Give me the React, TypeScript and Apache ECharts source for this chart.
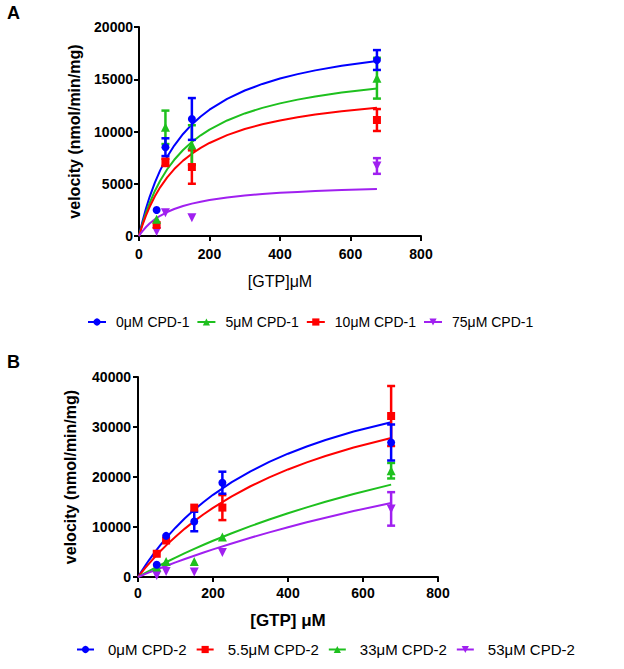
import React, { useEffect, useRef } from "react";
import * as echarts from "echarts";

const FONT = "'Liberation Sans', Arial, Helvetica, sans-serif";

// ---------- Panel A ----------
const namesA = ["0μM CPD-1", "5μM CPD-1", "10μM CPD-1", "75μM CPD-1"];
const xA = [50, 75, 150, 675];
const vA0 = [2490, 8500, 11200, 16840];
const eA0 = [0, 850, 2000, 950];
const vA5 = [1600, 10400, 8700, 15100];
const eA5 = [0, 1600, 1900, 1950];
const vA10 = [1050, 7050, 6600, 11100];
const eA10 = [0, 350, 1600, 1050];
const vA75 = [420, 2230, 1750, 6700];
const eA75 = [0, 0, 0, 750];

// fitted curves
const xCurve = [0, 5, 10, 20, 30, 45, 60, 80, 100, 125, 150, 175, 200, 250, 300, 350, 400, 450, 500, 575, 675];
const cA0 = [0, 735, 1418, 2649, 3727, 5114, 6283, 7583, 8658, 9766, 10676, 11438, 12085, 13123, 13921, 14553, 15066, 15491, 15848, 16289, 16749];
const cA5 = [0, 619, 1195, 2232, 3140, 4309, 5293, 6389, 7294, 8228, 8995, 9637, 10182, 11056, 11728, 12261, 12693, 13051, 13352, 13723, 14111];
const cA10 = [0, 549, 1058, 1973, 2772, 3798, 4660, 5615, 6404, 7213, 7878, 8432, 8902, 9656, 10234, 10690, 11061, 11367, 11624, 11942, 12273];
const cA75 = [0, 246, 469, 860, 1191, 1601, 1935, 2293, 2580, 2867, 3096, 3284, 3440, 3686, 3870, 4013, 4128, 4222, 4300, 4396, 4494];

// ---------- Panel B ----------
const namesB = ["0μM CPD-2", "5.5μM CPD-2", "33μM CPD-2", "53μM CPD-2"];
const xB = [50, 75, 150, 225, 675];
const vB0 = [2450, 8230, 11100, 18860, 26900];
const eB0 = [0, 0, 1950, 2200, 3600];
const vB55 = [4650, 7300, 13880, 13880, 32200];
const eB55 = [0, 0, 0, 2500, 6000];
const vB33 = [2000, 3110, 3110, 7980, 21260];
const eB33 = [0, 0, 0, 0, 1550];
const vB53 = [320, 1120, 1000, 4900, 13620];
const eB53 = [0, 0, 0, 0, 3350];

const cB0 = [0, 609, 1203, 2349, 3441, 4987, 6433, 8220, 9864, 11743, 13451, 15010, 16440, 18969, 21137, 23016, 24660, 26111, 27400, 29086, 30968];
const cB55 = [0, 479, 949, 1862, 2740, 3996, 5186, 6676, 8067, 9680, 11169, 12548, 13829, 16133, 18150, 19929, 21511, 22926, 24200, 25888, 27804];
const cB33 = [0, 209, 416, 825, 1228, 1821, 2401, 3154, 3885, 4769, 5622, 6446, 7241, 8754, 10170, 11499, 12749, 13925, 15035, 16588, 18471];
const cB53 = [0, 154, 308, 611, 912, 1355, 1791, 2360, 2917, 3594, 4253, 4894, 5518, 6715, 7851, 8930, 9957, 10934, 11866, 13186, 14812];

const BLUE = "#0000ff";
const GREEN = "#1ec01e";
const RED = "#ff0000";
const PURPLE = "#a020f0";

function lineSeries(name: string, ys: number[], color: string, symbol: string, rot: number, ax: number) {
  return {
    type: "line",
    name,
    xAxisIndex: ax,
    yAxisIndex: ax,
    data: xCurve.map((x, i) => [x, ys[i]]),
    smooth: false,
    showSymbol: false,
    symbol,
    symbolRotate: rot,
    symbolSize: 8,
    lineStyle: { color, width: 2 },
    itemStyle: { color },
    z: 2,
  };
}

function scatterSeries(name: string, xs: number[], ys: number[], color: string, symbol: string, rot: number, size: number, ax: number) {
  return {
    type: "scatter",
    name,
    xAxisIndex: ax,
    yAxisIndex: ax,
    data: xs.map((x, i) => [x, ys[i]]),
    symbol,
    symbolRotate: rot,
    symbolSize: size,
    itemStyle: { color, opacity: 1 },
    z: 4,
  };
}

function errSeries(name: string, xs: number[], ys: number[], es: number[], color: string, ax: number) {
  const data: number[][] = [];
  xs.forEach((x, i) => {
    if (es[i] > 0) data.push([x, ys[i] - es[i], ys[i] + es[i]]);
  });
  return {
    type: "custom",
    name,
    xAxisIndex: ax,
    yAxisIndex: ax,
    data,
    encode: { x: 0, y: [1, 2] },
    z: 3,
    renderItem: (params: any, api: any) => {
      const x = api.value(0);
      const lo = api.coord([x, api.value(1)]);
      const hi = api.coord([x, api.value(2)]);
      const w = 4;
      const style = { stroke: color, lineWidth: 2.5 };
      return {
        type: "group",
        children: [
          { type: "line", shape: { x1: lo[0], y1: lo[1], x2: hi[0], y2: hi[1] }, style },
          { type: "line", shape: { x1: hi[0] - w, y1: hi[1], x2: hi[0] + w, y2: hi[1] }, style },
          { type: "line", shape: { x1: lo[0] - w, y1: lo[1], x2: lo[0] + w, y2: lo[1] }, style },
        ],
      };
    },
  };
}

const axisLine = { show: true, lineStyle: { color: "#000", width: 2 } };
const axisTick = { show: true, inside: false, length: 5, lineStyle: { color: "#000", width: 2 } };
const plain = (v: number) => String(v);

export default function App() {
  const ref = useRef<HTMLDivElement>(null);
  useEffect(() => {
    if (!ref.current) return;
    const chart = echarts.init(ref.current, undefined, { renderer: "svg" });
    const option: any = {
      animation: false,
      backgroundColor: "#fff",
      textStyle: { fontFamily: FONT },
      grid: [
        { left: 139, top: 27, width: 282, height: 209 },
        { left: 138, top: 377, width: 300, height: 200 },
      ],
      xAxis: [
        {
          gridIndex: 0, type: "value", min: 0, max: 800, interval: 200,
          axisLine, axisTick, splitLine: { show: false },
          axisLabel: { color: "#000", fontWeight: "bold", fontSize: 14, fontFamily: FONT, margin: 11, formatter: plain },
          name: "[GTP]μM", nameLocation: "middle", nameGap: 37,
          nameTextStyle: { color: "#000", fontSize: 16, fontFamily: FONT },
        },
        {
          gridIndex: 1, type: "value", min: 0, max: 800, interval: 200,
          axisLine, axisTick, splitLine: { show: false },
          axisLabel: { color: "#000", fontWeight: "bold", fontSize: 14, fontFamily: FONT, margin: 9, formatter: plain },
          name: "[GTP] μM", nameLocation: "middle", nameGap: 35,
          nameTextStyle: { color: "#000", fontSize: 17, fontWeight: "bold", fontFamily: FONT },
        },
      ],
      yAxis: [
        {
          gridIndex: 0, type: "value", min: 0, max: 20000, interval: 5000,
          axisLine, axisTick, splitLine: { show: false },
          axisLabel: { color: "#000", fontWeight: "bold", fontSize: 14, fontFamily: FONT, margin: 6, formatter: plain },
          name: "velocity (nmol/min/mg)", nameLocation: "middle", nameGap: 57,
          nameTextStyle: { color: "#000", fontSize: 16, fontWeight: "bold", fontFamily: FONT },
        },
        {
          gridIndex: 1, type: "value", min: 0, max: 40000, interval: 10000,
          axisLine, axisTick, splitLine: { show: false },
          axisLabel: { color: "#000", fontWeight: "bold", fontSize: 14, fontFamily: FONT, margin: 7, formatter: plain },
          name: "velocity (nmol/min/mg)", nameLocation: "middle", nameGap: 60,
          nameTextStyle: { color: "#000", fontSize: 16, fontWeight: "bold", fontFamily: FONT },
        },
      ],
      legend: [
        {
          data: namesA, left: 87, top: 315, padding: 0, itemWidth: 18, itemHeight: 9, itemGap: 7,
          textStyle: { color: "#000", fontSize: 14, fontFamily: FONT, padding: [0, 0, 0, 5] },
        },
        {
          data: namesB, left: 76, top: 642, padding: 0, itemWidth: 17, itemHeight: 9, itemGap: 9,
          textStyle: { color: "#000", fontSize: 15, fontFamily: FONT, padding: [0, 0, 0, 9] },
        },
      ],
      graphic: [
        { type: "text", left: 7, top: 4, style: { text: "A", fontSize: 18, fontWeight: "bold", fontFamily: FONT, fill: "#000" } },
        { type: "text", left: 7, top: 353, style: { text: "B", fontSize: 18, fontWeight: "bold", fontFamily: FONT, fill: "#000" } },
      ],
      series: [
        lineSeries(namesA[0], cA0, BLUE, "circle", 0, 0),
        lineSeries(namesA[1], cA5, GREEN, "triangle", 0, 0),
        lineSeries(namesA[2], cA10, RED, "rect", 0, 0),
        lineSeries(namesA[3], cA75, PURPLE, "triangle", 180, 0),
        lineSeries(namesB[0], cB0, BLUE, "circle", 0, 1),
        lineSeries(namesB[1], cB55, RED, "rect", 0, 1),
        lineSeries(namesB[2], cB33, GREEN, "triangle", 0, 1),
        lineSeries(namesB[3], cB53, PURPLE, "triangle", 180, 1),

        errSeries(namesA[3], xA, vA75, eA75, PURPLE, 0),
        errSeries(namesA[2], xA, vA10, eA10, RED, 0),
        errSeries(namesA[1], xA, vA5, eA5, GREEN, 0),
        errSeries(namesA[0], xA, vA0, eA0, BLUE, 0),
        scatterSeries(namesA[3], xA, vA75, PURPLE, "triangle", 180, 9, 0),
        scatterSeries(namesA[2], xA, vA10, RED, "rect", 0, 8, 0),
        scatterSeries(namesA[1], xA, vA5, GREEN, "triangle", 0, 9, 0),
        scatterSeries(namesA[0], xA, vA0, BLUE, "circle", 0, 8, 0),

        errSeries(namesB[3], xB, vB53, eB53, PURPLE, 1),
        errSeries(namesB[2], xB, vB33, eB33, GREEN, 1),
        errSeries(namesB[1], xB, vB55, eB55, RED, 1),
        errSeries(namesB[0], xB, vB0, eB0, BLUE, 1),
        scatterSeries(namesB[3], xB, vB53, PURPLE, "triangle", 180, 9, 1),
        scatterSeries(namesB[2], xB, vB33, GREEN, "triangle", 0, 9, 1),
        scatterSeries(namesB[1], xB, vB55, RED, "rect", 0, 8, 1),
        scatterSeries(namesB[0], xB, vB0, BLUE, "circle", 0, 8, 1),
      ],
    };
    chart.setOption(option);
    return () => chart.dispose();
  }, []);
  return (
    <div
      ref={ref}
      style={{ position: "absolute", left: 0, top: 0, width: 624, height: 669, background: "#fff" }}
    />
  );
}
